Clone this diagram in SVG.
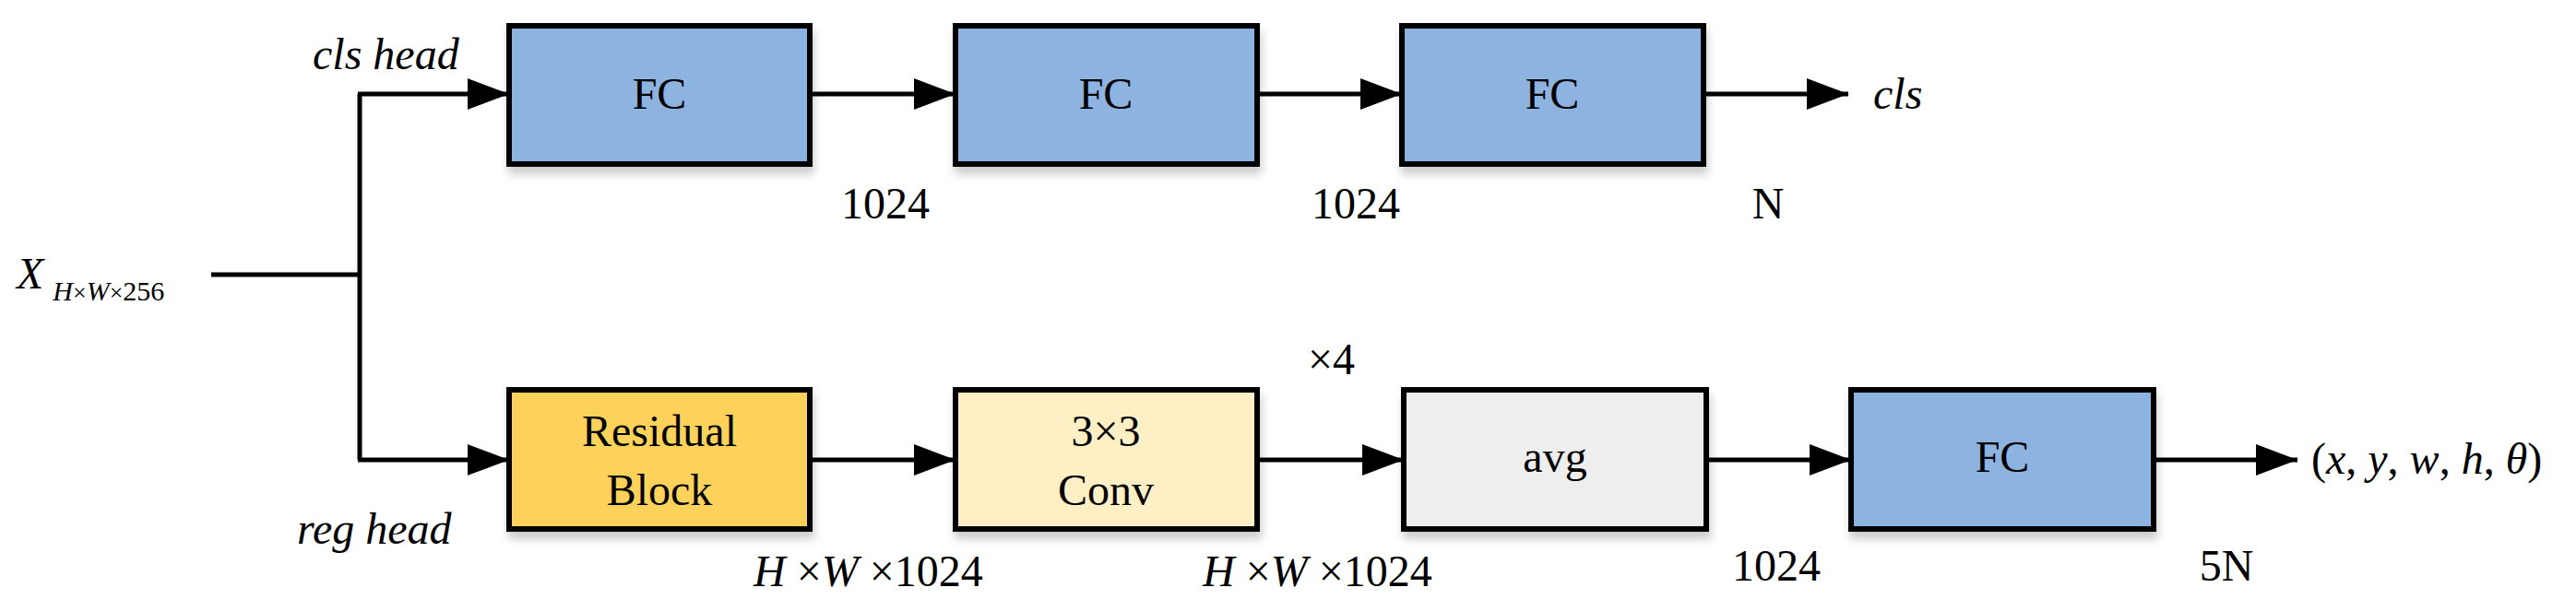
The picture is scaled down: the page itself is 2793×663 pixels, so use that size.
<svg xmlns="http://www.w3.org/2000/svg" width="2793" height="663" viewBox="0 0 2793 663">
<style>
text{font-family:"Liberation Serif","Times New Roman",serif;font-size:48px;fill:#000}
.i{font-style:italic}
.m{text-anchor:middle}
.box{stroke:#000;stroke-width:6;filter:url(#sh)}
.ln{stroke:#000;stroke-width:5;fill:none}
.blue{fill:#8DB3E1}
</style>
<defs>
<marker id="a" markerUnits="userSpaceOnUse" markerWidth="46" markerHeight="34" refX="45" refY="17" orient="auto"><path d="M0,0L45,17L0,34z" fill="#000"/></marker>
<filter id="sh" x="-5%" y="-5%" width="115%" height="125%"><feDropShadow dx="2" dy="8" stdDeviation="5" flood-color="#000" flood-opacity="0.2"/></filter>
</defs>
<g id="connectors">
<path class="ln" d="M229,298H390M390,102V499"/>
<path class="ln" d="M388,102H552" marker-end="url(#a)"/>
<path class="ln" d="M388,499H552" marker-end="url(#a)"/>
<path class="ln" d="M878,102H1036" marker-end="url(#a)"/>
<path class="ln" d="M1363,102H1520" marker-end="url(#a)"/>
<path class="ln" d="M1847,102H2004" marker-end="url(#a)"/>
<path class="ln" d="M878,499H1036" marker-end="url(#a)"/>
<path class="ln" d="M1363,499H1522" marker-end="url(#a)"/>
<path class="ln" d="M1850,499H2007" marker-end="url(#a)"/>
<path class="ln" d="M2335,499H2491" marker-end="url(#a)"/>
</g>
<g id="fc1"><rect class="box blue" x="552" y="28" width="326" height="150"/><text class="m" x="715" y="118">FC</text></g>
<g id="fc2"><rect class="box blue" x="1036" y="28" width="327" height="150"/><text class="m" x="1199" y="118">FC</text></g>
<g id="fc3"><rect class="box blue" x="1520" y="28" width="327" height="150"/><text class="m" x="1683" y="118">FC</text></g>
<g id="res"><rect class="box" fill="#FDD25A" x="552" y="423" width="326" height="151"/><text class="m" x="715" y="484">Residual</text><text class="m" x="715" y="548">Block</text></g>
<g id="conv"><rect class="box" fill="#FEF0C4" x="1036" y="423" width="327" height="151"/><text class="m" x="1199" y="484">3×3</text><text class="m" x="1199" y="548">Conv</text></g>
<g id="avg"><rect class="box" fill="#EEEEEE" x="1522" y="423" width="328" height="151"/><text class="m" x="1686" y="512">avg</text></g>
<g id="fc4"><rect class="box blue" x="2007" y="423" width="328" height="151"/><text class="m" x="2171" y="512">FC</text></g>
<g id="labels">
<text class="i" x="18" y="313">X<tspan font-size="30" dy="13" dx="10">H</tspan><tspan font-size="26" font-style="normal">×</tspan><tspan font-size="30">W</tspan><tspan font-size="26" font-style="normal">×</tspan><tspan font-size="30" font-style="normal">256</tspan></text>
<text class="i" x="339" y="75">cls head</text>
<text class="i" x="322" y="590">reg head</text>
<text class="m" x="960" y="237">1024</text>
<text class="m" x="1470" y="237">1024</text>
<text class="m" x="1917" y="237">N</text>
<text class="i" x="2031" y="118">cls</text>
<text x="1418" y="406">×4</text>
<text x="817" y="636"><tspan class="i">H</tspan> ×<tspan class="i">W</tspan> ×1024</text>
<text x="1304" y="636"><tspan class="i">H</tspan> ×<tspan class="i">W</tspan> ×1024</text>
<text class="m" x="1926" y="630">1024</text>
<text class="m" x="2414" y="630">5N</text>
<text x="2506" y="514">(<tspan class="i">x</tspan>, <tspan class="i">y</tspan>, <tspan class="i">w</tspan>, <tspan class="i">h</tspan>, <tspan class="i">θ</tspan>)</text>
</g>
</svg>
